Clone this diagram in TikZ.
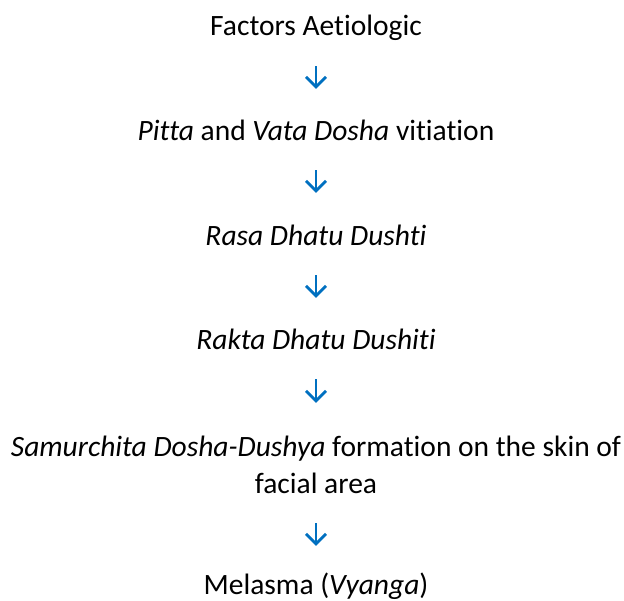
\documentclass[tikz,border=0pt]{standalone}
\usepackage{fontspec}
\setmainfont[Ligatures=NoCommon]{Carlito}
\usetikzlibrary{arrows.meta}
\definecolor{arrowblue}{HTML}{0070C0}
\tikzset{
  txt/.style={anchor=base, inner sep=0pt, font=\fontsize{29.5}{37}\selectfont, text height=20pt, text depth=7pt, align=center},
  arr/.style={draw=arrowblue, line width=2.8pt, -{Straight Barb[length=10pt,width=20pt,line width=2.8pt]}}
}
\begin{document}
\begin{tikzpicture}[x=1pt,y=-1pt]
\useasboundingbox (0,0) rectangle (624,600);
\node[txt] (t1) at (316,35) {Factors Aetiologic};
\node[txt] (t2) at (316,140) {\textit{Pitta} and \textit{Vata Dosha} vitiation};
\node[txt] (t3) at (316,245) {\textit{Rasa Dhatu Dushti}};
\node[txt] (t4) at (316,349) {\textit{Rakta Dhatu Dushiti}};
\node[txt] (t5) at (316,456) {\textit{Samurchita Dosha-Dushya} formation on the skin of};
\node[txt] (t5b) at (316,493) {facial area};
\node[txt] (t6) at (316,594) {Melasma (\textit{Vyanga})};
\draw[arr] ([yshift=-24pt]t1.south) -- ([yshift=31pt]t2.north);
\draw[arr] ([yshift=-23pt]t2.south) -- ([yshift=32pt]t3.north);
\draw[arr] ([yshift=-23pt]t3.south) -- ([yshift=31pt]t4.north);
\draw[arr] ([yshift=-23pt]t4.south) -- ([yshift=33pt]t5.north);
\draw[arr] ([yshift=-23pt]t5b.south) -- ([yshift=28pt]t6.north);
\end{tikzpicture}
\end{document}
